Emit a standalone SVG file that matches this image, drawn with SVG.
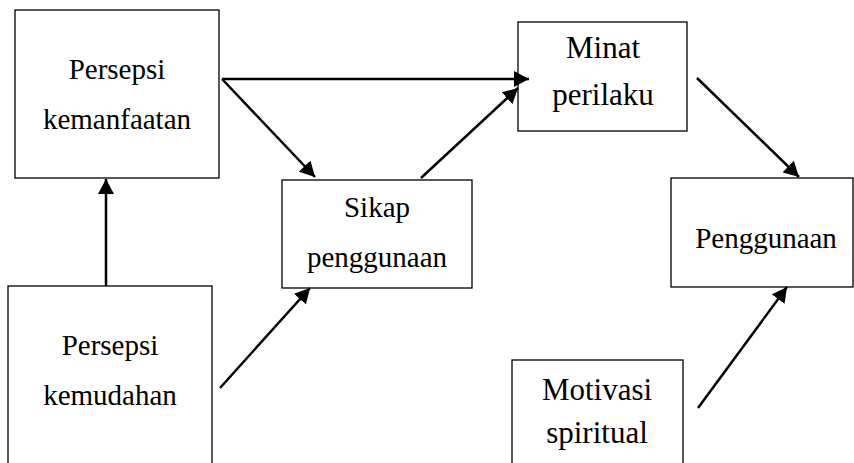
<svg xmlns="http://www.w3.org/2000/svg" width="854" height="463" viewBox="0 0 854 463">
<defs>
<marker id="ah" markerUnits="userSpaceOnUse" markerWidth="16" markerHeight="16" refX="15" refY="8" orient="auto">
<path d="M0,0 L15,8 L0,16 z" fill="#000"/>
</marker>
<style>
.box{fill:#fff;stroke:#000;stroke-width:1.3}
.t{font-size:29px;fill:#000;text-anchor:middle}
.tb{font-size:31px}
.c{stroke:#000;stroke-width:2.5;fill:none;marker-end:url(#ah)}
</style>
</defs>
<rect width="854" height="463" fill="#fff"/>
<g font-family="'Liberation Serif', 'Times New Roman', 'DejaVu Serif', serif">
<g id="kemanfaatan">
<rect class="box" x="15" y="10" width="204" height="168"/>
<text class="t" x="117" y="79">Persepsi</text>
<text class="t" x="117" y="129">kemanfaatan</text>
</g>
<g id="kemudahan">
<rect class="box" x="8" y="286" width="204" height="190"/>
<text class="t" x="110" y="355">Persepsi</text>
<text class="t" x="110" y="405">kemudahan</text>
</g>
<g id="sikap">
<rect class="box" x="282" y="180" width="190" height="108"/>
<text class="t" x="377" y="217">Sikap</text>
<text class="t" x="377" y="267">penggunaan</text>
</g>
<g id="minat">
<rect class="box" x="518" y="22" width="169" height="109"/>
<text class="t tb" x="603" y="58">Minat</text>
<text class="t tb" x="603" y="105">perilaku</text>
</g>
<g id="penggunaan">
<rect class="box" x="671" y="178" width="182" height="109"/>
<text class="t" x="766" y="248">Penggunaan</text>
</g>
<g id="motivasi">
<rect class="box" x="512" y="360" width="171" height="120"/>
<text class="t tb" x="597" y="400">Motivasi</text>
<text class="t tb" x="597" y="443">spiritual</text>
</g>
</g>
<g id="connectors">
<line class="c" x1="106" y1="286" x2="106" y2="179"/>
<line class="c" x1="222" y1="79" x2="529" y2="79"/>
<line class="c" x1="222" y1="79" x2="315" y2="177"/>
<line class="c" x1="220" y1="388" x2="310" y2="288"/>
<line class="c" x1="421" y1="178" x2="518" y2="88"/>
<line class="c" x1="697" y1="78" x2="799" y2="177"/>
<line class="c" x1="698" y1="408" x2="787" y2="287"/>
</g>
</svg>
